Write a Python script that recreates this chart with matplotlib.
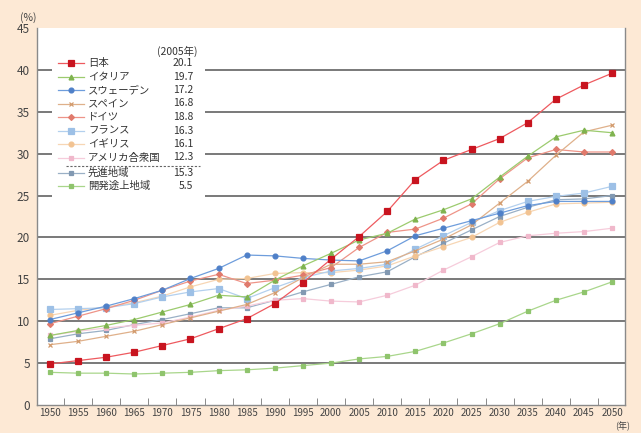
import matplotlib
matplotlib.use('Agg')
import matplotlib.pyplot as plt
from matplotlib.lines import Line2D
from matplotlib.patches import Rectangle

plt.rcParams['font.family'] = ['Noto Sans CJK JP', 'DejaVu Sans']

years = [1950, 1955, 1960, 1965, 1970, 1975, 1980, 1985, 1990, 1995, 2000,
         2005, 2010, 2015, 2020, 2025, 2030, 2035, 2040, 2045, 2050]

japan = [4.9, 5.3, 5.7, 6.3, 7.1, 7.9, 9.1, 10.3, 12.1, 14.6, 17.4,
         20.1, 23.1, 26.9, 29.2, 30.5, 31.8, 33.7, 36.5, 38.2, 39.6]
italy = [8.3, 8.9, 9.5, 10.2, 11.1, 12.0, 13.1, 12.9, 14.9, 16.6, 18.1,
         19.7, 20.5, 22.2, 23.3, 24.6, 27.2, 29.7, 32.0, 32.8, 32.5]
sweden = [10.2, 11.0, 11.8, 12.7, 13.7, 15.1, 16.3, 17.9, 17.8, 17.5, 17.3,
          17.2, 18.4, 20.2, 21.1, 22.0, 22.9, 23.8, 24.3, 24.3, 24.3]
spain = [7.2, 7.6, 8.2, 8.8, 9.6, 10.4, 11.2, 12.0, 13.4, 15.2, 16.8,
         16.8, 17.1, 18.4, 19.8, 21.5, 24.1, 26.7, 29.8, 32.6, 33.4]
germany = [9.7, 10.6, 11.5, 12.5, 13.7, 14.8, 15.6, 14.5, 14.9, 15.5, 16.4,
           18.8, 20.6, 21.0, 22.3, 24.0, 27.0, 29.5, 30.5, 30.2, 30.2]
france = [11.4, 11.5, 11.6, 12.1, 12.9, 13.5, 13.9, 12.7, 14.0, 15.2, 16.0,
          16.3, 16.8, 18.6, 20.2, 21.8, 23.2, 24.3, 24.9, 25.3, 26.1]
uk = [10.7, 11.3, 11.7, 12.2, 13.0, 14.1, 15.0, 15.1, 15.7, 15.8, 15.8,
      16.1, 16.6, 17.8, 18.9, 20.0, 21.8, 23.0, 24.0, 24.1, 24.2]
usa = [8.3, 8.8, 9.2, 9.5, 9.8, 10.5, 11.3, 11.8, 12.5, 12.7, 12.4,
       12.3, 13.1, 14.3, 16.1, 17.7, 19.4, 20.2, 20.5, 20.7, 21.1]
developed = [7.9, 8.5, 8.9, 9.6, 10.2, 10.9, 11.6, 11.6, 12.5, 13.5, 14.4,
             15.3, 15.9, 17.7, 19.3, 20.9, 22.5, 23.6, 24.5, 24.6, 25.0]
developing = [3.9, 3.8, 3.8, 3.7, 3.8, 3.9, 4.1, 4.2, 4.4, 4.7, 5.0,
              5.5, 5.8, 6.4, 7.4, 8.5, 9.7, 11.2, 12.5, 13.5, 14.7]

names = ['日本', 'イタリア', 'スウェーデン', 'スペイン', 'ドイツ', 'フランス',
         'イギリス', 'アメリカ合衆国', '先進地域', '開発途上地域']
values_2005 = ['20.1', '19.7', '17.2', '16.8', '18.8', '16.3', '16.1', '12.3', '15.3', '5.5']
series = [japan, italy, sweden, spain, germany, france, uk, usa, developed, developing]

# line color, marker, marker size, marker color
styles = [
    ('#ee5a5f', 's', 4.5, '#c8141f'),
    ('#9ccb6e', '^', 3.5, '#7fb34f'),
    ('#6e9ddc', 'o', 3.5, '#4f80c8'),
    ('#dfb08a', 'x', 3.5, '#d29a6c'),
    ('#ee9488', 'D', 3.0, '#e07a6c'),
    ('#b3d0ee', 's', 4.0, '#9dc0e6'),
    ('#f7d6b4', 'o', 3.5, '#f2c392'),
    ('#f6ccdb', 's', 3.5, '#f0b8cb'),
    ('#9ab0c6', 's', 3.5, '#8299b2'),
    ('#a9d68b', 's', 3.5, '#8fc46d'),
]

W, H = 641, 433
fig = plt.figure(figsize=(W / 100, H / 100), dpi=100)
fig.patch.set_facecolor('#fde9d5')


def fx(px):
    return px / W


def fy(py):
    return 1 - py / H


ax = fig.add_axes([fx(37), fy(405), fx(625) - fx(37), fy(28) - fy(405)])
ax.set_facecolor('white')
ax.set_xlim(1947.7, 2052.3)
ax.set_ylim(0, 45)

for yv in range(5, 45, 5):
    ax.axhline(yv, color='#6e6e6e', lw=1.3, zorder=1)

# draw series back to front so Japan ends on top
for vals, (c, m, ms, mc) in reversed(list(zip(series, styles))):
    mfc = mc if m != 'x' else 'none'
    ax.plot(years, vals, color=c, lw=0.9, marker=m, ms=ms, mfc=mfc, mec=mc,
            mew=0.9, zorder=3)

ax.set_yticks(range(0, 46, 5))
ax.set_yticklabels([str(v) for v in range(0, 46, 5)], fontsize=8.5, color='#444444')
ax.set_xticks(years)
ax.set_xticklabels([str(y) for y in years], fontsize=7.0, color='#444444')
ax.set_xticks([y + 2.5 for y in years[:-1]], minor=True)
ax.tick_params(axis='x', which='major', length=0, pad=2.5)
ax.tick_params(axis='x', which='minor', direction='in', length=5, color='#777777')
ax.tick_params(axis='y', length=0, pad=5)

for s in ['left', 'bottom', 'right']:
    ax.spines[s].set_color('#8a8a8a')
    ax.spines[s].set_linewidth(1.0)
ax.spines['top'].set_visible(False)

fig.text(fx(20), fy(18), '(%)', fontsize=7.5, color='#444444', va='center')
fig.text(fx(630), fy(426), '(年)', fontsize=6.5, color='#444444', ha='right', va='center')

# legend box
fig.patches.append(Rectangle((fx(52), fy(203)), fx(205) - fx(52), fy(38) - fy(203),
                             transform=fig.transFigure, facecolor='white',
                             edgecolor='none', zorder=2))
fig.text(fx(177), fy(51), '(2005年)', fontsize=7.5, color='#333333', ha='center',
         va='center', zorder=5)
row_y = [63, 76.5, 90, 103.5, 117, 130.5, 144, 157.5, 173, 186]
for name, val, (c, m, ms, mc), ry in zip(names, values_2005, styles, row_y):
    mfc = mc if m != 'x' else 'none'
    fig.lines.append(Line2D([fx(58), fx(84)], [fy(ry), fy(ry)], transform=fig.transFigure,
                            color=c, lw=0.9, zorder=5))
    fig.lines.append(Line2D([fx(71)], [fy(ry)], transform=fig.transFigure, color=c,
                            marker=m, ms=ms, mfc=mfc, mec=mc, mew=0.9, zorder=5))
    fig.text(fx(88), fy(ry), name, fontsize=7.5, color='#333333', va='center', zorder=5)
    fig.text(fx(193), fy(ry), val, fontsize=7.5, color='#333333', va='center',
             ha='right', zorder=5)
fig.lines.append(Line2D([fx(66), fx(200)], [fy(165.5), fy(165.5)], transform=fig.transFigure,
                        color='#666666', lw=0.8, ls=(0, (2, 1.5)), zorder=5))

fig.savefig('out.png', dpi=100, facecolor=fig.get_facecolor())
